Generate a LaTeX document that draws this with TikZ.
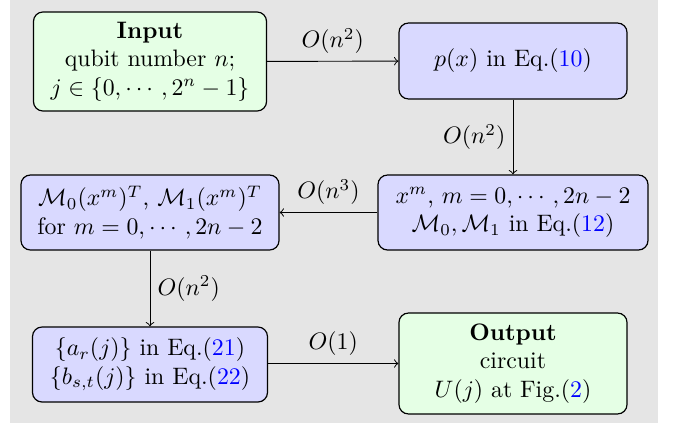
\documentclass[tikz,border=0pt]{standalone}
\usepackage{amsmath}
\begin{document}
\begin{tikzpicture}[x=0.42pt,y=-0.42pt,
  box/.style={draw, rounded corners=4pt, align=center, inner sep=2pt, line width=0.5pt},
  gbox/.style={box, fill=green!10},
  bbox/.style={box, fill=blue!15},
  arr/.style={->, line width=0.4pt},
  lab/.style={inner sep=3pt}]
\useasboundingbox (0,0) rectangle (683,428);
\fill[black!10] (10,0) rectangle (658,423);
\node[gbox, minimum width=97.9pt, minimum height=41.6pt] (in) at (150,61.5)
  {\textbf{Input}\\ qubit number $n$;\\ $j\in\{0,\cdots,2^n-1\}$};
\node[bbox, minimum width=95.8pt, minimum height=31.9pt] (p) at (513,61)
  {$p(x)$ in Eq.(\textcolor{blue}{10})};
\node[bbox, minimum width=113.4pt, minimum height=31.5pt] (xm) at (513,212.5)
  {$x^m$, $m=0,\cdots,2n-2$\\ $\mathcal{M}_0,\mathcal{M}_1$ in Eq.(\textcolor{blue}{12})};
\node[bbox, minimum width=108.4pt, minimum height=31.5pt] (mm) at (150,212.5)
  {$\mathcal{M}_0(x^m)^T$, $\mathcal{M}_1(x^m)^T$\\ for $m=0,\cdots,2n-2$};
\node[bbox, minimum width=98.7pt, minimum height=31.5pt] (ab) at (150,364.5)
  {$\{a_r(j)\}$ in Eq.(\textcolor{blue}{21})\\ $\{b_{s,t}(j)\}$ in Eq.(\textcolor{blue}{22})};
\node[gbox, minimum width=95.8pt, minimum height=42.4pt] (out) at (513,363.5)
  {\textbf{Output}\\ circuit\\ $U(j)$ at Fig.(\textcolor{blue}{2})};
\draw[arr] (in) -- node[lab, above] {$O(n^2)$} (p);
\draw[arr] (p) -- node[lab, left] {$O(n^2)$} (xm);
\draw[arr] (xm) -- node[lab, above] {$O(n^3)$} (mm);
\draw[arr] (mm) -- node[lab, right] {$O(n^2)$} (ab);
\draw[arr] (ab.east |- out.west) -- node[lab, above] {$O(1)$} (out.west);
\end{tikzpicture}
\end{document}
